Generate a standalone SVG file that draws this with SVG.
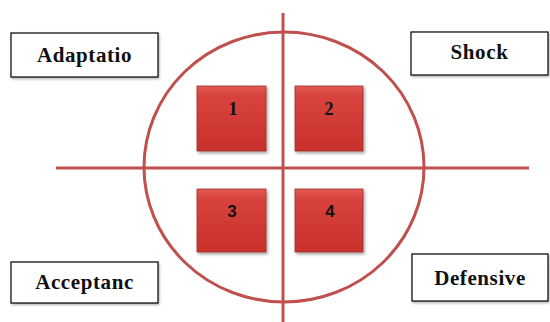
<svg xmlns="http://www.w3.org/2000/svg" width="550" height="322" viewBox="0 0 550 322">
<style>
.lbl{fill:#fff;stroke:#000;stroke-width:1.2}
.lt{font-family:"Liberation Serif","DejaVu Serif",serif;font-weight:bold;font-size:21px;letter-spacing:0.6px;fill:#111;text-anchor:middle}
.num{font-family:"Liberation Serif","DejaVu Serif",serif;font-weight:bold;font-size:18px;fill:#111;text-anchor:middle}
.n2{font-family:"Liberation Sans","DejaVu Sans",sans-serif;font-size:17px}
.ln{stroke:#c0504d;stroke-width:3;fill:none}
.sq{fill:url(#rg);stroke:#9b2d2a;stroke-width:0.8;filter:url(#sh)}
</style>
<defs>
<linearGradient id="rg" x1="0" y1="0" x2="0" y2="1">
<stop offset="0" stop-color="#e25a55"/>
<stop offset="0.15" stop-color="#d8433e"/>
<stop offset="1" stop-color="#c9302c"/>
</linearGradient>
<filter id="sh" x="-20%" y="-20%" width="150%" height="150%">
<feDropShadow dx="1.5" dy="2" stdDeviation="1.5" flood-color="#000" flood-opacity="0.35"/>
</filter>
<filter id="bs" x="-10%" y="-10%" width="130%" height="140%">
<feDropShadow dx="1" dy="1.5" stdDeviation="1" flood-color="#000" flood-opacity="0.3"/>
</filter>
</defs>
<g id="connectors">
<ellipse class="ln" cx="284" cy="167" rx="140" ry="135"/>
<line class="ln" x1="283" y1="13" x2="283" y2="322"/>
<line class="ln" x1="56" y1="168" x2="529" y2="168"/>
</g>
<g id="adaptatio"><rect class="lbl" x="11" y="33" width="147" height="44" filter="url(#bs)"/><text class="lt" x="84.5" y="62">Adaptatio</text></g>
<g id="shock"><rect class="lbl" x="411" y="32" width="137" height="43" filter="url(#bs)"/><text class="lt" x="479.5" y="59">Shock</text></g>
<g id="acceptanc"><rect class="lbl" x="11" y="262" width="147" height="41" filter="url(#bs)"/><text class="lt" x="84.5" y="289">Acceptanc</text></g>
<g id="defensive"><rect class="lbl" x="412" y="254" width="136" height="47" filter="url(#bs)"/><text class="lt" x="480" y="285">Defensive</text></g>
<g id="q1"><rect class="sq" x="197" y="86" width="69" height="65"/><text class="num" x="233" y="115">1</text></g>
<g id="q2"><rect class="sq" x="295" y="86" width="68" height="65"/><text class="num" x="329" y="115">2</text></g>
<g id="q3"><rect class="sq" x="197" y="189" width="69" height="63"/><text class="num n2" x="232" y="217">3</text></g>
<g id="q4"><rect class="sq" x="295" y="189" width="68" height="63"/><text class="num n2" x="330" y="217">4</text></g>
</svg>
